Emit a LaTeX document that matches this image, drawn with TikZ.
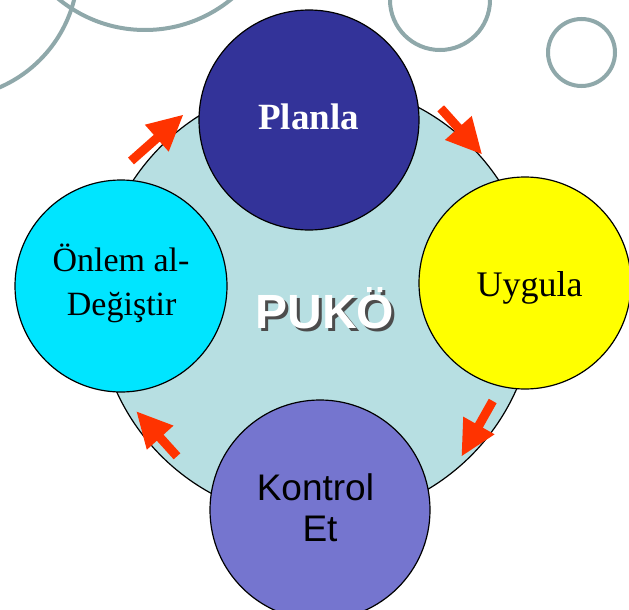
\documentclass[tikz,border=0pt]{standalone}
\usepackage{fontspec}
\setmainfont{Liberation Serif}
\setsansfont{Liberation Sans}
\definecolor{deco}{RGB}{143,168,170}
\definecolor{bigfill}{RGB}{183,223,226}
\definecolor{planfill}{RGB}{51,51,153}
\definecolor{uygfill}{RGB}{255,255,0}
\definecolor{onlfill}{RGB}{0,229,255}
\definecolor{konfill}{RGB}{117,117,207}
\definecolor{arrred}{RGB}{255,51,0}
\tikzset{
  decoring/.style={draw=deco, line width=4pt},
  bubble/.style={circle, draw=black, line width=1.2pt, inner sep=0pt},
  arr/.style={fill=arrred},
  serifbig/.style={font=\fontsize{36}{40}\selectfont, text=black, inner sep=0pt, anchor=base},
  sansbig/.style={font=\sffamily\fontsize{37}{41}\selectfont, text=black, inner sep=0pt, anchor=base},
}
\newcommand\blockarrow[3]{%
  \fill[arr, shift={(#1)}, rotate=#2] (0,4.5) -- (#3-35,4.5) -- (#3-35,18) -- (#3,0) -- (#3-35,-18) -- (#3-35,-4.5) -- (0,-4.5) -- cycle;}
\begin{document}
\begin{tikzpicture}[x=1pt,y=-1pt]
\useasboundingbox (0,0) rectangle (629,610);
\clip (0,0) rectangle (629,610);
\fill[white] (0,0) rectangle (629,610);
% decorative rings
\draw[decoring] (-52,-32) circle[radius=130];
\draw[decoring] (145,-106) circle[radius=136];
\draw[decoring] (440,0) circle[radius=50];
\draw[decoring] (581.5,52.5) circle[radius=33.5];
% big circle
\node[bubble, fill=bigfill, minimum size=438pt] (big) at (316,301) {};
% arrows
\blockarrow{131,161}{41.5}{69.4}
\blockarrow{440.7,108.3}{-48.1}{61.4}
\blockarrow{492.7,401}{-119.4}{63.1}
\blockarrow{177,456.3}{132.1}{60.1}
% the four circles
\node[bubble, fill=planfill, minimum size=220pt] (plan) at (309,120) {};
\node[bubble, fill=uygfill, minimum size=212pt] (uyg) at (525,283) {};
\node[bubble, fill=onlfill, minimum size=212pt] (onl) at (121,286) {};
\node[bubble, fill=konfill, minimum size=220pt] (kon) at (320,510) {};
% texts
\node[serifbig, text=white, font=\bfseries\fontsize{37}{40}\selectfont] (planT) at (308.5,129) {Planla};
\node[serifbig] (uygT) at (529.5,296.7) {Uygula};
\node[serifbig, font=\fontsize{34}{40}\selectfont] (onlT1) at (121,271.7) {Önlem al-};
\node[serifbig, font=\fontsize{34}{40}\selectfont] (onlT2) at (121.7,315) {Değiştir};
\node[sansbig] (konT1) at (315.4,500) {Kontrol};
\node[sansbig] (konT2) at (320,541) {Et};
\node[sansbig, font=\sffamily\bfseries\fontsize{48}{52}\selectfont, text=black!70] (pukoS) at (328,331) {PUKÖ};
\node[sansbig, font=\sffamily\bfseries\fontsize{48}{52}\selectfont, text=white] (puko) at (325,328) {PUKÖ};
\end{tikzpicture}
\end{document}
